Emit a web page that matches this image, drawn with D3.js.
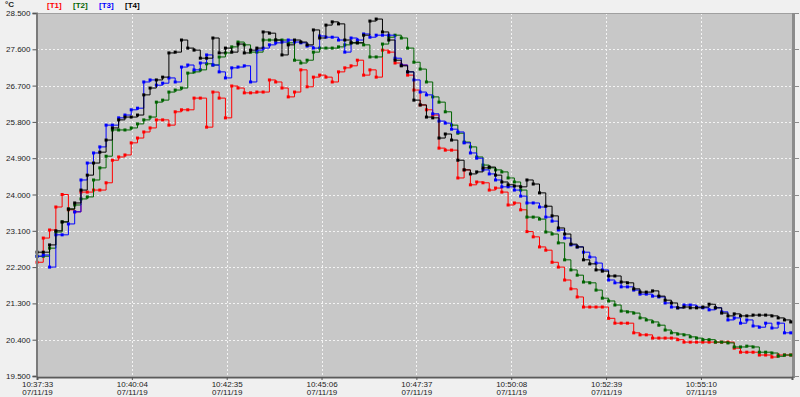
<!DOCTYPE html>
<html>
<head>
<meta charset="utf-8">
<script src="https://cdn.jsdelivr.net/npm/d3@7"></script>
<style>
  body { margin: 0; background: #f0f0f0; }
  svg { display: block; font-family: "Liberation Sans", Arial, sans-serif; }
</style>
</head>
<body>
<svg id="chart" width="800" height="397"></svg>
<script>
// Data, one sample every 10 s from 10:37:33
const startTime = new Date(2019, 6, 11, 10, 37, 33);
const endTime = new Date(2019, 6, 11, 10, 57, 35);
const seconds = d3.range(0, 1201, 10);

const t1 = [22.32,22.92,23.12,23.69,24.0,23.62,23.57,24.06,24.06,24.11,24.11,24.29,24.85,24.93,24.98,25.28,25.40,25.55,25.65,25.85,
  25.85,25.72,26.05,26.1,26.1,26.39,26.39,25.67,26.54,26.39,25.9,26.69,26.64,26.52,26.52,26.54,26.54,26.84,26.79,26.64,
  26.42,26.54,27.09,26.67,26.91,26.96,26.91,26.79,27.04,27.14,27.19,27.33,26.96,27.09,26.91,27.58,27.53,27.26,27.21,26.96,
  26.59,26.22,26.1,25.97,25.15,25.1,25.1,24.41,24.61,24.24,24.31,24.29,24.11,24.16,24.06,23.74,23.79,23.62,23.08,22.95,
  22.70,22.62,22.32,22.2,21.88,21.66,21.46,21.21,21.21,21.21,21.21,20.93,20.81,20.81,20.81,20.57,20.52,20.52,20.44,20.44,
  20.44,20.44,20.4,20.34,20.34,20.34,20.34,20.34,20.34,20.34,20.34,20.19,20.09,20.09,20.09,20.02,20.02,19.97,20.02,20.02,20.02];

const t2 = [22.47,22.47,22.67,23.07,23.32,23.64,23.74,23.89,23.94,24.36,24.66,24.95,25.6,25.6,25.6,25.65,25.75,25.85,25.92,26.29,
  26.34,26.54,26.59,26.64,27.01,27.04,27.09,27.24,27.21,27.41,27.51,27.66,27.78,27.71,27.53,27.53,27.83,27.83,27.83,27.83,
  27.76,27.33,27.26,27.33,27.53,27.63,27.63,27.63,27.66,27.71,27.76,27.76,27.71,27.41,27.41,27.73,27.9,27.95,27.88,27.63,
  27.28,27.11,26.79,26.42,26.29,26.05,25.72,25.52,25.3,25.18,24.93,24.73,24.66,24.61,24.56,24.41,24.31,24.11,23.44,23.44,
  23.39,23.07,23.02,22.8,22.38,22.13,22.0,21.83,21.81,21.63,21.43,21.36,21.26,21.11,21.09,21.06,20.94,20.89,20.84,20.76,
  20.64,20.57,20.54,20.52,20.47,20.44,20.4,20.4,20.34,20.34,20.32,20.22,20.22,20.24,20.22,20.09,20.09,20.07,19.99,20.02,20.02];

const t3 = [22.47,22.5,22.2,23.0,23.0,23.27,23.57,24.36,24.78,25.03,25.18,25.72,25.72,25.9,25.97,26.1,26.14,26.79,26.84,26.71,
  26.76,26.89,26.79,27.16,27.21,27.09,27.26,27.46,27.21,27.04,26.89,27.14,27.16,27.19,26.79,27.58,27.63,27.71,27.76,27.78,
  27.83,27.78,27.76,27.68,27.63,27.93,27.9,27.9,27.83,27.53,27.88,27.83,27.98,27.9,27.95,27.95,27.95,27.38,27.21,27.04,
  26.84,26.54,26.47,26.0,25.82,25.77,25.62,25.55,25.28,25.03,24.9,24.61,24.51,24.36,24.19,24.19,24.11,23.96,23.79,23.79,
  23.69,23.44,23.34,23.12,22.92,22.75,22.7,22.57,22.45,22.3,22.13,21.88,21.81,21.71,21.71,21.63,21.53,21.53,21.48,21.46,
  21.31,21.21,21.19,21.26,21.26,21.21,21.19,21.14,21.19,21.09,20.89,20.94,20.81,20.89,20.74,20.71,20.81,20.69,20.81,20.57,20.57];

const t4 = [22.57,22.57,22.75,23.1,23.32,23.64,23.79,24.11,24.48,24.78,25.05,25.35,25.65,25.85,25.92,25.92,25.97,26.47,26.64,26.84,
  26.91,27.51,27.53,27.83,27.63,27.58,27.38,27.38,27.88,27.51,27.63,27.53,27.73,27.51,27.58,27.63,28.03,28.0,27.83,27.46,
  27.71,27.83,27.78,27.71,28.08,27.88,28.2,28.28,28.23,27.83,27.76,27.76,27.95,28.3,28.35,28.03,27.83,27.33,27.19,27.04,
  26.34,26.22,25.92,25.9,25.4,25.5,25.35,24.85,24.61,24.51,24.56,24.66,24.68,24.48,24.31,24.24,24.21,24.19,24.36,24.26,
  24.04,23.71,23.47,23.17,23.02,22.77,22.7,22.38,22.28,22.13,22.1,21.98,21.98,21.83,21.81,21.66,21.58,21.58,21.61,21.48,
  21.38,21.31,21.19,21.21,21.19,21.19,21.21,21.28,21.19,21.06,20.99,21.04,20.99,20.99,21.01,21.01,21.01,20.99,20.94,20.89,20.84];

const seriesNames = ["T1", "T2", "T3", "T4"];
const seriesColors = ["#ff0000", "#006400", "#0000ff", "#000000"];
const yTicks = [19.5, 20.4, 21.3, 22.2, 23.1, 24.0, 24.9, 25.8, 26.7, 27.6, 28.5];
const xTickSeconds = [0, 151, 302, 453, 604, 755, 906, 1057];

const svg = d3.select("#chart");
const margin = { left: 37, top: 13, right: 8, bottom: 21 };
const W = 800, H = 397;

const x = d3.scaleTime().domain([startTime, endTime]).range([margin.left, W - margin.right]);
const y = d3.scaleLinear().domain([19.5, 28.5]).range([H - margin.bottom, margin.top]);
const toDate = s => new Date(startTime.getTime() + s * 1000);

// plot background
svg.append("rect")
  .attr("x", margin.left).attr("y", margin.top)
  .attr("width", W - margin.right - margin.left)
  .attr("height", H - margin.bottom - margin.top)
  .attr("fill", "#c8c8c8");

// grid
const grid = svg.append("g").attr("stroke", "#f4f4f4").attr("stroke-dasharray", "2,2").attr("stroke-width", 1);
grid.selectAll(".gy").data(yTicks.slice(1, -1)).join("line")
  .attr("x1", margin.left).attr("x2", W - margin.right)
  .attr("y1", d => Math.round(y(d)) + 0.5).attr("y2", d => Math.round(y(d)) + 0.5);
grid.selectAll(".gx").data(xTickSeconds.slice(1)).join("line")
  .attr("x1", d => Math.round(x(toDate(d))) + 0.5).attr("x2", d => Math.round(x(toDate(d))) + 0.5)
  .attr("y1", margin.top).attr("y2", H - margin.bottom);

// frame: top and right
svg.append("line").attr("x1", margin.left).attr("x2", W - margin.right)
  .attr("y1", margin.top + 0.5).attr("y2", margin.top + 0.5).attr("stroke", "#a0a0a0").attr("stroke-width", 1);
svg.append("rect").attr("x", W - margin.right).attr("y", margin.top)
  .attr("width", 3).attr("height", H - margin.bottom - margin.top + 2).attr("fill", "#8c8c8c");
svg.append("g").selectAll("line").data(yTicks).join("line")
  .attr("x1", W - margin.right + 3).attr("x2", W - margin.right + 7)
  .attr("y1", d => Math.round(y(d)) + 0.5).attr("y2", d => Math.round(y(d)) + 0.5)
  .attr("stroke", "#8c8c8c");

// series
const allSeries = [t1, t2, t3, t4];
const line = d3.line().x((d, i) => x(toDate(seconds[i]))).y(d => y(d)).curve(d3.curveStepAfter);
allSeries.forEach((vals, k) => {
  const g = svg.append("g");
  g.append("path").datum(vals).attr("d", line)
    .attr("fill", "none").attr("stroke", seriesColors[k]).attr("stroke-width", 1);
  g.selectAll("rect").data(vals).join("rect")
    .attr("x", (d, i) => x(toDate(seconds[i])) - 1.5)
    .attr("y", d => y(d) - 1.5)
    .attr("width", 3).attr("height", 3)
    .attr("fill", seriesColors[k]);
});

// y axis
const yAxis = svg.append("g").attr("transform", `translate(${margin.left - 0.5},0)`)
  .call(d3.axisLeft(y).tickValues(yTicks).tickFormat(d3.format(".3f")).tickSize(4).tickPadding(2));
yAxis.select(".domain").attr("stroke", "#7a7a7a").attr("stroke-width", 2);
yAxis.selectAll(".tick line").attr("stroke", "#555");
yAxis.selectAll("text").attr("fill", "#222").attr("font-size", "8px");

// x axis
const xAxis = svg.append("g").attr("transform", `translate(0,${H - margin.bottom + 1})`)
  .call(d3.axisBottom(x).tickValues(xTickSeconds.map(toDate)).tickSize(3).tickFormat(""));
xAxis.select(".domain").attr("stroke", "#5a5a5a").attr("stroke-width", 2);
xAxis.selectAll(".tick line").attr("stroke", "#555");
const fmtTime = d3.timeFormat("%H:%M:%S");
const fmtDate = d3.timeFormat("%m/%d/%y");
xAxis.selectAll(".tick").append("text")
  .attr("fill", "#222").attr("font-size", "8px").attr("text-anchor", "middle")
  .each(function (d) {
    const t = d3.select(this);
    t.append("tspan").attr("x", 0).attr("y", 10).text(fmtTime(d));
    t.append("tspan").attr("x", 0).attr("y", 18).text(fmtDate(d));
  });

// unit + legend
svg.append("text").attr("x", 5).attr("y", 7).attr("font-size", "8px").attr("font-weight", "bold")
  .attr("fill", "#222").text("°C");
const legendX = [47, 73, 99, 125];
svg.append("g").selectAll("text").data(seriesNames).join("text")
  .attr("x", (d, i) => legendX[i]).attr("y", 8)
  .attr("font-size", "8px").attr("font-weight", "bold")
  .attr("fill", (d, i) => seriesColors[i])
  .text(d => `[${d}]`);
</script>
</body>
</html>
